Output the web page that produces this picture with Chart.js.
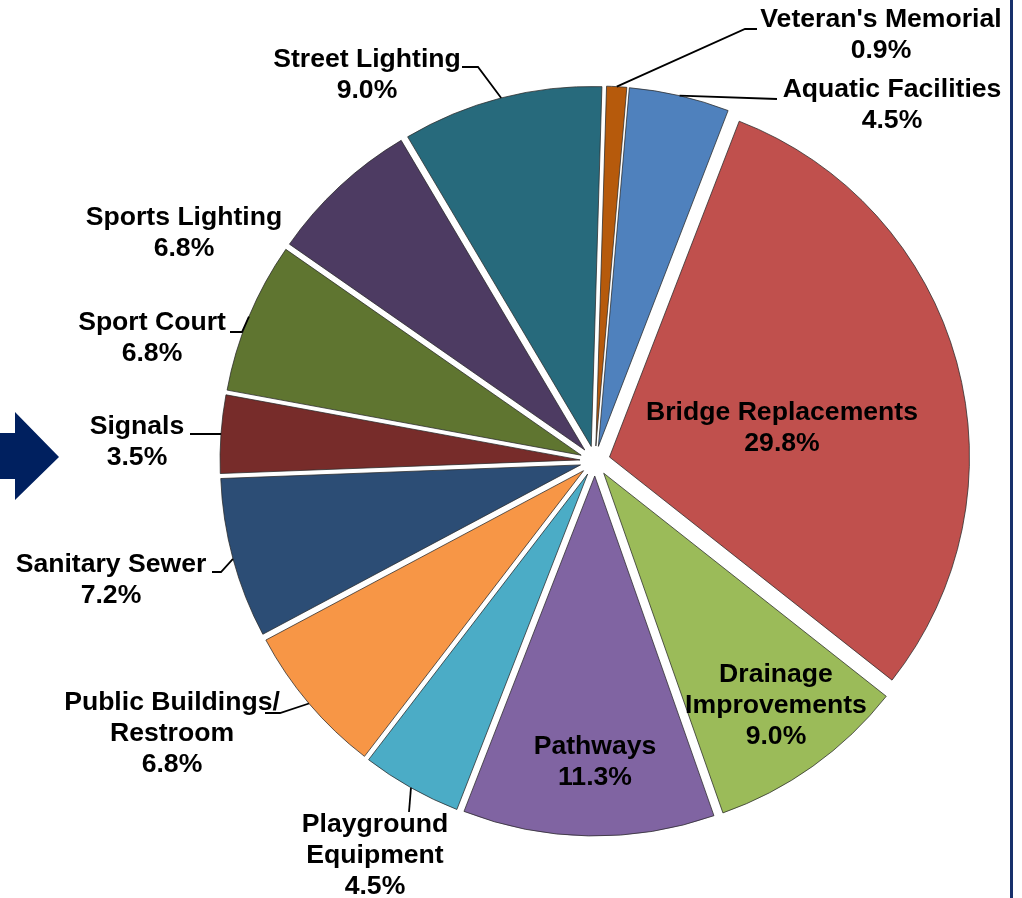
<!DOCTYPE html>
<html>
<head>
<meta charset="utf-8">
<title>Project Categories</title>
<script src="https://cdn.jsdelivr.net/npm/chart.js@4.4.1/dist/chart.umd.min.js"></script>
<style>
    html, body { margin: 0; padding: 0; background: #ffffff; }
    #chartBox { width: 1022px; height: 898px; position: relative; }
</style>
</head>
<body>
<div id="chartBox"><canvas id="projectPie" width="1022" height="898"></canvas></div>
<script>
// --- DATA ---
const categories = [
    "Veteran's Memorial", 'Aquatic Facilities', 'Bridge Replacements', 'Drainage\nImprovements',
    'Pathways', 'Playground\nEquipment', 'Public Buildings/\nRestroom', 'Sanitary Sewer',
    'Signals', 'Sport Court', 'Sports Lighting', 'Street Lighting'
];
const shares = [0.9, 4.5, 29.8, 9.0, 11.3, 4.5, 6.8, 7.2, 3.5, 6.8, 6.8, 9.0];
const sliceColors = [
    '#B65A0C', '#4F81BD', '#C0504D', '#9BBB59', '#8064A2', '#4BACC6',
    '#F79646', '#2C4D75', '#772C2A', '#5F7530', '#4D3B62', '#276A7C'
];

// --- LAYOUT (label placement, not data) ---
const EXPLODE = 15;
const FONT = 'bold 26.6px "Liberation Sans", Arial, sans-serif';
const LINE_H = 31;
// tx/ty = centre of first text line; leader = elbow + end point, starting on the slice edge
const labelLayout = [
    { tx: 881, ty: 20,  leader: [[745, 29], [757, 29]] },
    { tx: 892, ty: 90,  leader: [[777, 99]] },
    { tx: 782, ty: 413, leader: null },
    { tx: 776, ty: 675, leader: null },
    { tx: 595, ty: 747, leader: null },
    { tx: 375, ty: 825, leader: [[409, 812]] },
    { tx: 172, ty: 703, leader: [[280, 713], [265, 713]] },
    { tx: 111, ty: 565, leader: [[221, 572], [212, 572]] },
    { tx: 137, ty: 427, leader: [[210, 434], [190, 434]] },
    { tx: 152, ty: 323, leader: [[242, 332], [230, 332]] },
    { tx: 184, ty: 218, leader: null },
    { tx: 367, ty: 60,  leader: [[478, 67], [462, 67]] }
];

// exploded slices: shift each arc outward along its mid angle (no radius growth)
const baseArcDraw = Chart.ArcElement.prototype.draw;
Chart.ArcElement.prototype.draw = function(ctx) {
    const mid = (this.startAngle + this.endAngle) / 2;
    ctx.save();
    ctx.translate(Math.cos(mid) * EXPLODE, Math.sin(mid) * EXPLODE);
    baseArcDraw.call(this, ctx);
    ctx.restore();
};

const decorPlugin = {
    id: 'decor',
    beforeDraw(chart) {
        const ctx = chart.ctx;
        ctx.save();
        // navy arrow on the left
        ctx.fillStyle = '#00205F';
        ctx.beginPath();
        ctx.moveTo(0, 433);
        ctx.lineTo(15, 433);
        ctx.lineTo(15, 412);
        ctx.lineTo(59, 457);
        ctx.lineTo(15, 500);
        ctx.lineTo(15, 479);
        ctx.lineTo(0, 479);
        ctx.closePath();
        ctx.fill();
        // frame line on the right
        ctx.fillStyle = '#17306B';
        ctx.fillRect(1010, 0, 3, 898);
        ctx.restore();
    }
};

const sliceLabelPlugin = {
    id: 'sliceLabels',
    afterDatasetsDraw(chart) {
        const ctx = chart.ctx;
        const meta = chart.getDatasetMeta(0);
        ctx.save();
        ctx.font = FONT;
        ctx.fillStyle = '#000000';
        ctx.strokeStyle = '#000000';
        ctx.lineWidth = 1.8;
        ctx.textAlign = 'center';
        ctx.textBaseline = 'middle';
        meta.data.forEach((arc, i) => {
            const spot = labelLayout[i];
            if (spot.leader) {
                const mid = (arc.startAngle + arc.endAngle) / 2;
                const r = arc.outerRadius + EXPLODE;
                ctx.beginPath();
                ctx.moveTo(arc.x + Math.cos(mid) * r, arc.y + Math.sin(mid) * r);
                spot.leader.forEach(p => ctx.lineTo(p[0], p[1]));
                ctx.stroke();
            }
            const lines = categories[i].split('\n').concat(shares[i].toFixed(1) + '%');
            lines.forEach((txt, k) => ctx.fillText(txt, spot.tx, spot.ty + k * LINE_H));
        });
        ctx.restore();
    }
};

new Chart(document.getElementById('projectPie'), {
    type: 'pie',
    data: {
        labels: categories.map(c => c.replace('\n', ' ')),
        datasets: [{
            data: shares,
            backgroundColor: sliceColors,
            borderColor: 'rgba(40, 40, 40, 0.75)',
            borderWidth: 1,
            hoverOffset: 0
        }]
    },
    options: {
        responsive: false,
        devicePixelRatio: 1,
        animation: false,
        rotation: 1.7,
        radius: 360,
        layout: { padding: { left: 168, right: 0, top: 24, bottom: 0 } },
        plugins: { legend: { display: false }, tooltip: { enabled: false } }
    },
    plugins: [decorPlugin, sliceLabelPlugin]
});
</script>
</body>
</html>
